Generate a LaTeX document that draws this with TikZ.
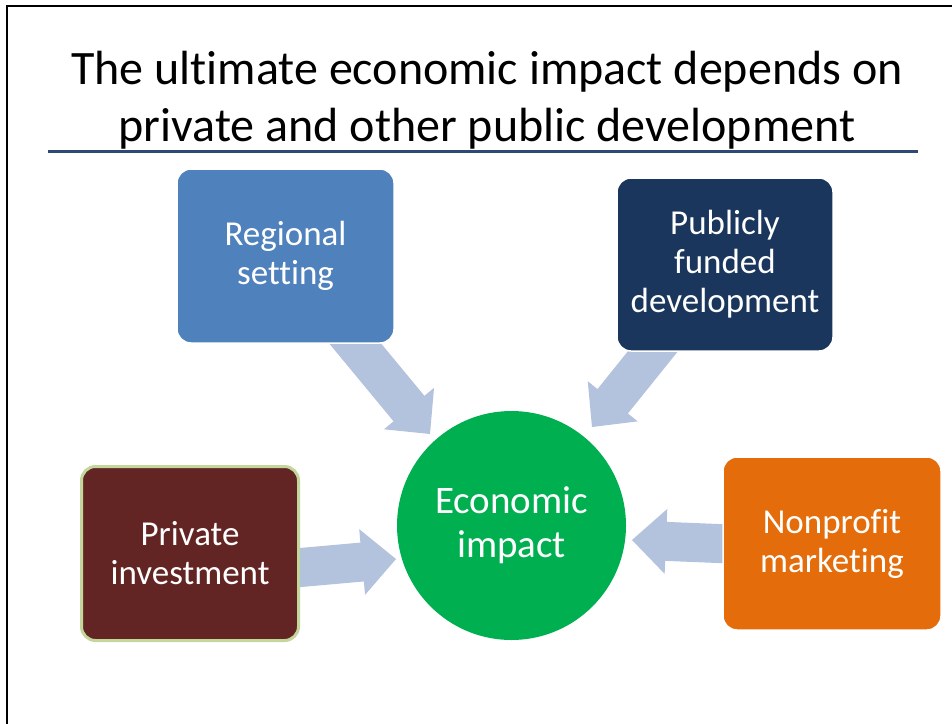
\documentclass[tikz,border=0pt]{standalone}
\usepackage{fontspec}
\setmainfont[Ligatures=NoCommon]{Carlito}
\usetikzlibrary{calc}
\definecolor{arrowblue}{HTML}{B3C2DD}
\definecolor{regblue}{HTML}{4F81BD}
\definecolor{pubnavy}{HTML}{1A365D}
\definecolor{privbrown}{HTML}{632523}
\definecolor{privedge}{HTML}{C3D69B}
\definecolor{nporange}{HTML}{E46C0A}
\definecolor{ecogreen}{HTML}{00B050}
\definecolor{rulenavy}{HTML}{2E4A74}
\newcommand\blkarrow[6]{%
  % #1 name prefix, #2 start, #3 tip, #4 shaft half width, #5 head half width, #6 head length
  \coordinate (#1-n) at ($(#3)!#6!(#2)$);
  \fill[arrowfill] ($(#2)!#4!90:(#3)$) -- ($(#1-n)!#4!90:(#3)$) -- ($(#1-n)!#5!90:(#3)$)
    -- (#3) -- ($(#1-n)!#5!-90:(#3)$) -- ($(#1-n)!#4!-90:(#3)$) -- ($(#2)!#4!-90:(#3)$) -- cycle;
}
\begin{document}
\begin{tikzpicture}[x=1pt,y=-1pt,
  arrowfill/.style={fill=arrowblue},
  box/.style={rectangle, rounded corners=14pt, minimum width=217pt, minimum height=174pt,
    inner sep=0pt, align=center, text=white, font=\fontsize{35}{39}\selectfont},
  frameline/.style={line width=2pt, black}
]
\useasboundingbox (0,0) rectangle (952,723);
% frame
\coordinate (fr-bl) at (7,724);
\coordinate (fr-tl) at (7,6);
\coordinate (fr-tr) at (953,6);
\draw[frameline] (fr-bl) -- (fr-tl) -- (fr-tr);
% title
\node[font=\fontsize{48}{57}\selectfont, align=center] (title) at (487,100)
  {The ultimate economic impact depends on\\private and other public development};
\coordinate (rule-l) at (48,151);
\coordinate (rule-r) at (918,151);
\draw[rulenavy, line width=3pt] (rule-l) -- (rule-r);
% arrows (drawn below the boxes)
\coordinate (a1-s) at (344,330); \coordinate (a1-t) at (430,434);
\coordinate (a2-s) at (666,335); \coordinate (a2-t) at (592,427);
\coordinate (a3-s) at (295,568); \coordinate (a3-t) at (396,559);
\coordinate (a4-s) at (730,544); \coordinate (a4-t) at (632,540);
\blkarrow{a1}{a1-s}{a1-t}{20pt}{32.5pt}{33pt}
\blkarrow{a2}{a2-s}{a2-t}{19.5pt}{32pt}{33pt}
\blkarrow{a3}{a3-s}{a3-t}{19.5pt}{33pt}{34pt}
\blkarrow{a4}{a4-s}{a4-t}{19.5pt}{32.5pt}{34pt}
% boxes
\node[box, fill=regblue, draw=white, line width=1.5pt] (regional) at (285.5,256) {Regional\\setting};
\node[box, fill=pubnavy, draw=white, line width=1.5pt, minimum width=216pt, minimum height=173pt] (public) at (725,264.5) {Publicly\\funded\\development};
\node[box, fill=privbrown, draw=privedge, line width=3pt] (private) at (190,553.5) {Private\\investment};
\node[box, fill=nporange, draw=white, line width=1.5pt, minimum width=218pt, minimum height=173pt] (nonprofit) at (832,543.5) {Nonprofit\\marketing};
\node[circle, fill=ecogreen, minimum size=229pt, inner sep=0pt, align=center, text=white,
  font=\fontsize{39}{44}\selectfont] (econ) at (511.5,525.5) {Economic\\impact};
\end{tikzpicture}
\end{document}
